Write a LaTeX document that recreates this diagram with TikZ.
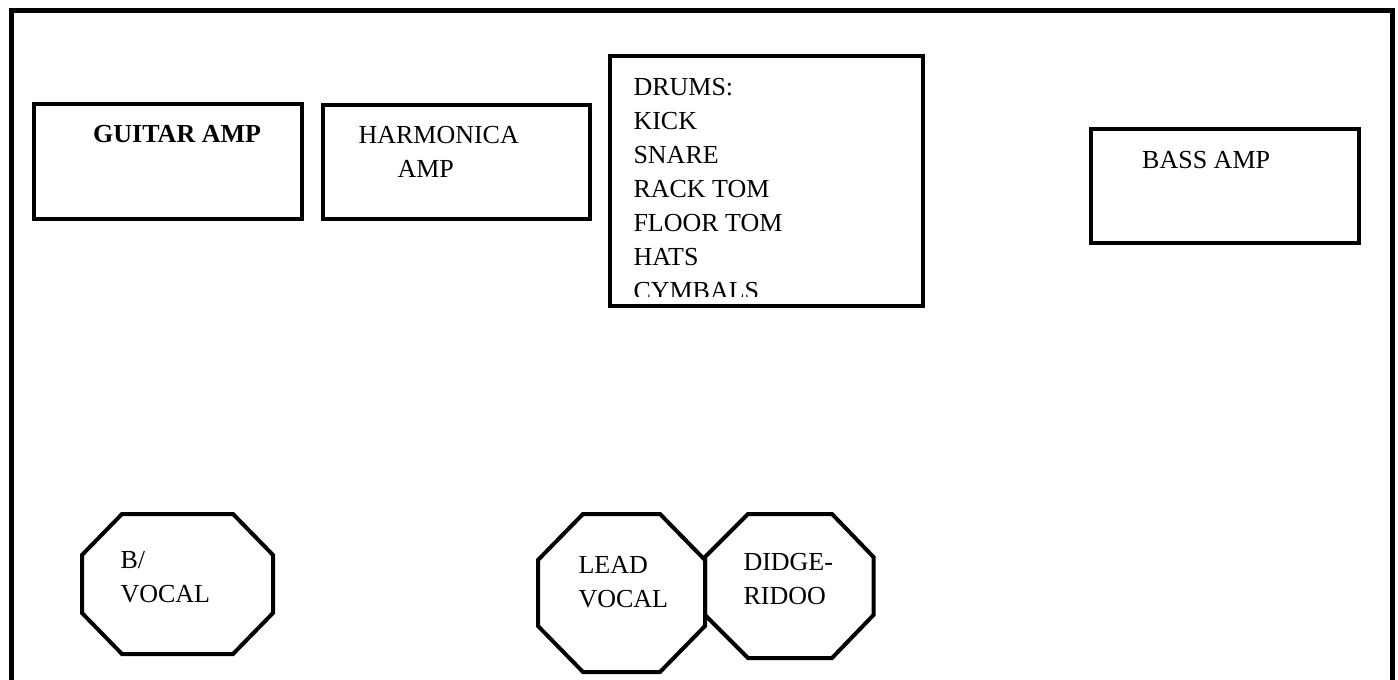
\documentclass[tikz,border=0pt]{standalone}
\usepackage{fontspec}
\setmainfont{Liberation Serif}

\tikzset{every picture/.style={line width=0.75pt}}
\tikzset{
  frame/.style={line width=3.75pt},
  ampbox/.style={line width=3pt},
  octo/.style={line width=3pt},
  lbl/.style={font=\fontsize{19.5}{25.5}\selectfont, inner sep=0pt}
}

\begin{document}
\begin{tikzpicture}[x=0.75pt,y=0.75pt,yscale=-1,xscale=1]
	\useasboundingbox (0,0) rectangle (1398,680);

	%Shape: Stage Frame
	\draw [frame]  (11,690) -- (11,11) -- (1392.5,11) -- (1392.5,690) ;

	%Shape: Rectangle
	\draw [ampbox]  (34,104.5) rectangle (302,219) ;
	%Shape: Rectangle
	\draw [ampbox]  (322.5,105.5) rectangle (590,219) ;
	%Shape: Rectangle
	\draw [ampbox]  (609.5,56) rectangle (923,306) ;
	%Shape: Rectangle
	\draw [ampbox]  (1090.5,129) rectangle (1359,243) ;

	%Shape: Octagon
	\draw [octo]  (122,514) -- (233,514) -- (273,555) -- (273,613) -- (233,654) -- (122,654) -- (82,613) -- (82,555) -- cycle ;
	%Shape: Octagon
	\draw [octo]  (583,514) -- (660,514) -- (705,560) -- (705,626) -- (660,672) -- (583,672) -- (538,626) -- (538,560) -- cycle ;
	%Shape: Octagon
	\draw [octo]  (748,514) -- (832,514) -- (873.5,557) -- (873.5,615) -- (832,658) -- (748,658) -- (705,615) -- (705,557) -- cycle ;

	% Text Node
	\draw (92.7,143) node [lbl, anchor=base west] (guitar) {\textbf{GUITAR AMP}};
	% Text Node
	\draw (358,125.7) node [lbl, anchor=north west, align=left] (harmonica) {HARMONICA\\\hspace*{29.25pt}AMP};
	% Text Node
	\begin{scope}
	\clip (612,58) rectangle (921,297);
	\draw (633,77.5) node [lbl, anchor=north west, align=left] (drums) {DRUMS:\\KICK\\SNARE\\RACK TOM\\FLOOR TOM\\HATS\\CYMBALS};
	\end{scope}
	% Text Node
	\draw (1141.7,168.3) node [lbl, anchor=base west] (bass) {BASS AMP};
	% Text Node
	\draw (120,550.5) node [lbl, anchor=north west, align=left] (bvocal) {B/\\VOCAL};
	% Text Node
	\draw (578,556) node [lbl, anchor=north west, align=left] (leadvocal) {LEAD\\VOCAL};
	% Text Node
	\draw (743,552.7) node [lbl, anchor=north west, align=left] (didge) {DIDGE-\\RIDOO};

\end{tikzpicture}
\end{document}
